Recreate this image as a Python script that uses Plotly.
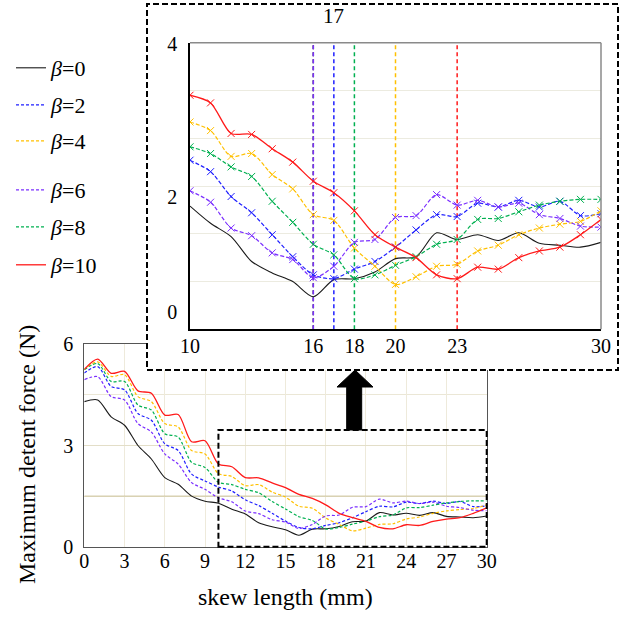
import plotly.graph_objects as go

# ---------------- data ----------------
skew_mm = list(range(0, 31))                      # skew length (mm)
beta_values = ["0", "2", "4", "6", "8", "10"]

force_b0 = [4.30, 4.35, 3.85, 3.60, 3.00, 2.60, 2.05, 1.85, 1.50, 1.35, 1.29,
            1.11, 0.97, 0.71, 0.59, 0.50, 0.34, 0.52, 0.53, 0.60, 0.74,
            0.76, 1.01, 0.94, 0.99, 0.93, 1.01, 0.90, 0.88, 0.86, 0.91]
force_b2 = [5.15, 5.34, 4.75, 4.65, 3.95, 3.75, 3.05, 2.85, 2.15, 1.95, 1.77,
            1.65, 1.39, 1.22, 0.99, 0.76, 0.57, 0.53, 0.63, 0.71, 0.86,
            1.04, 1.20, 1.18, 1.32, 1.28, 1.35, 1.28, 1.34, 1.19, 1.21]
force_b4 = [5.25, 5.48, 5.05, 5.10, 4.45, 4.30, 3.65, 3.55, 2.85, 2.75, 2.17,
            2.08, 1.81, 1.84, 1.62, 1.47, 1.20, 1.14, 0.85, 0.66, 0.47,
            0.55, 0.66, 0.68, 0.82, 0.88, 0.99, 1.06, 1.10, 1.13, 1.24]
force_b6 = [4.95, 5.04, 4.45, 4.35, 3.65, 3.40, 2.75, 2.45, 1.90, 1.70, 1.45,
            1.33, 1.06, 0.98, 0.80, 0.73, 0.54, 0.66, 0.91, 0.94, 1.17,
            1.19, 1.41, 1.30, 1.35, 1.28, 1.32, 1.20, 1.16, 1.08, 1.07]
force_b8 = [5.25, 5.43, 4.90, 4.90, 4.20, 4.05, 3.35, 3.25, 2.50, 2.35, 1.91,
            1.84, 1.70, 1.60, 1.34, 1.12, 0.89, 0.78, 0.53, 0.57, 0.67,
            0.76, 0.89, 0.94, 1.15, 1.16, 1.23, 1.30, 1.34, 1.36, 1.36]
force_b10 = [5.26, 5.56, 5.14, 5.20, 4.62, 4.55, 3.90, 3.92, 3.11, 3.14, 2.45,
             2.37, 2.05, 2.04, 1.89, 1.75, 1.55, 1.43, 1.24, 0.99, 0.86,
             0.75, 0.57, 0.53, 0.65, 0.63, 0.75, 0.82, 0.86, 0.99, 1.15]

main_x_ticks = list(range(0, 31, 3))
main_y_ticks = [0, 3, 6]
inset_x_ticks = [10, 16, 18, 20, 23, 30]
inset_y_tickvals = [0.18, 1.39, 2.99]
inset_y_ticktext = ["0", "2", "4"]
inset_start = 10
zoom_box_top = 3.46

# ---------------- styles ----------------
W, H = 629, 621
SERIF = "Liberation Serif"
colors = ["#1a1a1a", "#1f1fff", "#ffc000", "#7b2fff", "#00b050", "#ff1a1a"]
dashes = ["solid", "3px,2px", "3px,2px", "3px,2px", "3px,2px", "solid"]
widths = [1.1, 1.2, 1.2, 1.2, 1.2, 1.3]
legend_ids = ["legend", "legend2", "legend3", "legend4", "legend5", "legend6"]
legend_yc = [68, 105, 141, 190, 227, 265]
all_series = [force_b0, force_b2, force_b4, force_b6, force_b8, force_b10]


def px(p):
    return p / W


def py(p):
    return 1 - p / H


main_dx = [px(84.3), px(486.7)]
main_dy = [py(546.7), py(344.3)]
box_dx = [px(147), px(618)]
box_dy = [py(370), py(4)]
ins_dx = [px(190), px(601)]
ins_dy = [py(329.3), py(42.7)]
main_xr = [0, 30]
main_yr = [0, 6]


def main_to_paper(xv, yv):
    xp = main_dx[0] + (xv - main_xr[0]) / (main_xr[1] - main_xr[0]) * (main_dx[1] - main_dx[0])
    yp = main_dy[0] + (yv - main_yr[0]) / (main_yr[1] - main_yr[0]) * (main_dy[1] - main_dy[0])
    return xp, yp


fig = go.Figure()

# main chart traces
for b, vals, c, d, w, lid in zip(beta_values, all_series, colors, dashes, widths, legend_ids):
    fig.add_trace(go.Scatter(
        x=skew_mm, y=vals, mode="lines", name=f"<i>β</i>={b}",
        line=dict(color=c, dash=d, width=w, shape="spline", smoothing=0.8),
        xaxis="x", yaxis="y", legend=lid, hoverinfo="skip"))

# dummy subplot: white panel for the inset (covers main chart beneath)
fig.add_trace(go.Scatter(x=[None], y=[None], xaxis="x2", yaxis="y2",
                         showlegend=False, hoverinfo="skip"))

# inset traces
shapes = []
min_positions = []
for i, (vals, c, d, w) in enumerate(zip(all_series, colors, dashes, widths)):
    xs = [x for x in skew_mm if x >= inset_start]
    ys = [v for x, v in zip(skew_mm, vals) if x >= inset_start]
    fig.add_trace(go.Scatter(
        x=xs, y=ys, mode="lines" if i == 0 else "lines+markers",
        line=dict(color=c, dash=d if d == "solid" else "4px,2px", width=w,
                  shape="spline", smoothing=0.8),
        marker=dict(symbol="x-thin", size=7, line=dict(color=c, width=1), color=c),
        xaxis="x3", yaxis="y3", showlegend=False, hoverinfo="skip"))
    xmin = xs[ys.index(min(ys))]
    min_positions.append(xmin)
    shapes.append(dict(type="line", xref="x3", yref="y3", x0=xmin, x1=xmin, y0=0, y1=3,
                       line=dict(color=c, width=1.5, dash="4px,3px"), layer="between"))

# darker reference line at 1.5 in main chart
shapes.append(dict(type="line", xref="x", yref="y", x0=0, x1=30, y0=1.5, y1=1.5,
                   line=dict(color="#cdc49c", width=1), layer="between"))
# inset top/right frame (grey)
shapes.append(dict(type="line", xref="paper", yref="paper", x0=ins_dx[0], x1=ins_dx[1],
                   y0=ins_dy[1], y1=ins_dy[1], line=dict(color="#8a8a8a", width=1.5), layer="above"))
shapes.append(dict(type="line", xref="paper", yref="paper", x0=ins_dx[1], x1=ins_dx[1],
                   y0=ins_dy[0], y1=ins_dy[1], line=dict(color="#8a8a8a", width=1.5), layer="above"))
# outer dashed frame of inset
shapes.append(dict(type="rect", xref="paper", yref="paper", x0=box_dx[0], x1=box_dx[1],
                   y0=box_dy[0], y1=box_dy[1], line=dict(color="black", width=2, dash="6px,3px"),
                   layer="above"))
# zoom box on the main chart
zx0, zy0 = main_to_paper(inset_start, 0)
zx1, zy1 = main_to_paper(30, zoom_box_top)
shapes.append(dict(type="rect", xref="paper", yref="paper", x0=zx0, x1=zx1, y0=zy0, y1=zy1,
                   line=dict(color="black", width=2, dash="6px,3px"), layer="above"))
# arrow
pts = [(346.7, 430), (361.7, 430), (361.7, 387), (373, 387), (355, 370), (337, 387), (346.7, 387)]
path = "M " + " L ".join(f"{px(a):.5f},{py(b):.5f}" for a, b in pts) + " Z"
shapes.append(dict(type="path", xref="paper", yref="paper", path=path,
                   fillcolor="black", line=dict(color="black", width=1), layer="above"))

annotations = [
    dict(text="skew length (mm)", xref="paper", yref="paper", x=px(285.5), y=py(597),
         showarrow=False, font=dict(family=SERIF, size=24, color="black"),
         xanchor="center", yanchor="middle"),
    dict(text="Maximum detent force (N)", xref="paper", yref="paper", x=px(27), y=py(455),
         showarrow=False, textangle=-90, font=dict(family=SERIF, size=24, color="black"),
         xanchor="center", yanchor="middle"),
    dict(text=str(min_positions[1]), xref="x3", yref="paper", x=min_positions[1], y=py(16),
         showarrow=False, font=dict(family=SERIF, size=21, color="black"),
         xanchor="center", yanchor="middle"),
]

layout = dict(
    width=W, height=H, margin=dict(l=0, r=0, t=0, b=0),
    paper_bgcolor="white", plot_bgcolor="white",
    font=dict(family=SERIF, size=20, color="black"),
    shapes=shapes, annotations=annotations,
    xaxis=dict(domain=main_dx, range=main_xr, anchor="y", tickvals=main_x_ticks,
               showgrid=True, gridcolor="#eeeadb", gridwidth=1, zeroline=False,
               showline=True, linecolor="#555555", linewidth=1, mirror=True,
               ticks="", ticklabelstandoff=-4, tickfont=dict(size=20), automargin=False),
    yaxis=dict(domain=main_dy, range=main_yr, anchor="x", tickvals=main_y_ticks,
               showgrid=True, gridcolor="#e3dec8", gridwidth=1, zeroline=False,
               minor=dict(tickvals=[1.5, 4.5], showgrid=True, gridcolor="#ebe7d6", ticks=""),
               showline=True, linecolor="#555555", linewidth=1, mirror=True,
               ticks="", ticklabelstandoff=6, tickfont=dict(size=20), automargin=False),
    xaxis2=dict(domain=box_dx, anchor="y2", visible=False, range=[0, 1]),
    yaxis2=dict(domain=box_dy, anchor="x2", visible=False, range=[0, 1]),
    xaxis3=dict(domain=ins_dx, range=[inset_start, 30], anchor="y3", tickvals=inset_x_ticks,
                showgrid=False, zeroline=False, showline=True, linecolor="black", linewidth=1.5,
                ticks="", ticklabelstandoff=-2, tickfont=dict(size=20), automargin=False),
    yaxis3=dict(domain=ins_dy, range=[0, 3], anchor="x3", tickvals=inset_y_tickvals,
                ticktext=inset_y_ticktext, showgrid=False, zeroline=False,
                minor=dict(tickmode="linear", tick0=0, dtick=0.5, showgrid=True,
                           gridcolor="#ecebe0", ticks=""),
                showline=True, linecolor="black", linewidth=1.5,
                ticks="", ticklabelstandoff=7, tickfont=dict(size=20), automargin=False),
)
for lid, yc in zip(legend_ids, legend_yc):
    layout[lid] = dict(x=px(11), xanchor="left", y=py(yc), yanchor="middle",
                       bgcolor="rgba(0,0,0,0)", borderwidth=0,
                       font=dict(family=SERIF, size=22, color="black"))

fig.update_layout(**layout)
fig.write_html("out.html", config={"displayModeBar": False},
               post_script="document.body.style.margin='0';document.body.style.padding='0';")
